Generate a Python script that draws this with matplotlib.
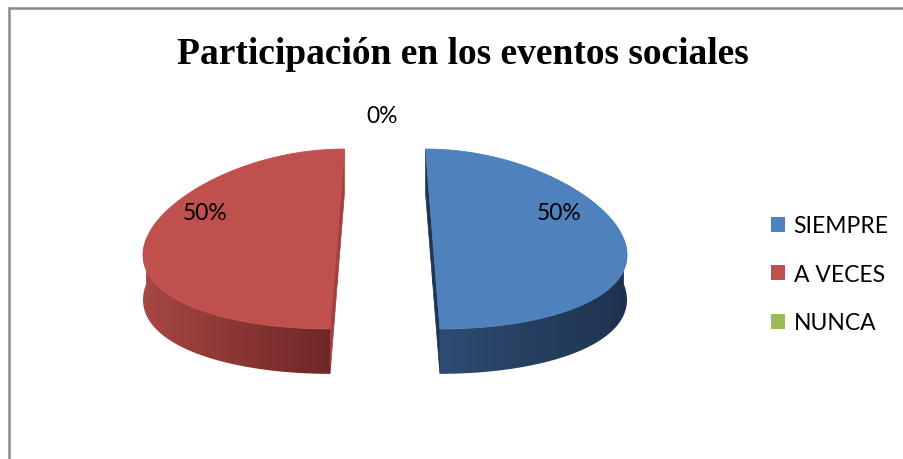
import numpy as np
import matplotlib
matplotlib.use('Agg')
import matplotlib.pyplot as plt
from matplotlib.patches import Polygon, Patch
from matplotlib.colors import LinearSegmentedColormap
from matplotlib.lines import Line2D

# ---- data ----
title = 'Participación en los eventos sociales'
categories = ['SIEMPRE', 'A VECES', 'NUNCA']
values = [50, 50, 0]

top_colors = ['#4F81BD', '#C0504D', '#9BBB59']
side_light = ['#2E4C72', '#A64742', '#7E9A45']
side_dark = ['#1E324F', '#6E2727', '#5A6E30']
cut_colors = ['#1F3552', '#A3403D', '#6A8440']

W, H = 904, 460
fig = plt.figure(figsize=(W / 100, H / 100), dpi=100)
ax = fig.add_axes([0, 0, 1, 1])
R_PX = 191.0
CX_PX, CY_PX = 385.0, 240.0
ax.set_xlim(-CX_PX / R_PX, (W - CX_PX) / R_PX)
ax.set_ylim(-(H - CY_PX) / R_PX, CY_PX / R_PX)
ax.axis('off')

TILT = 0.471     # vertical squash of the pie top
DEPTH = 0.235    # thickness of the pie
KEY = 0.15       # perspective keystone
EXPLODE = 0.25
START = 90.0


def proj(X, Y, Z=0.0):
    X = np.asarray(X, float)
    Y = np.asarray(Y, float)
    s = 1 - KEY * Y
    return X * s, Y * TILT + Z


def gradient_fill(xy, c1, c2, zorder):
    poly = Polygon(xy, closed=True, facecolor='none', edgecolor='none', zorder=zorder)
    ax.add_patch(poly)
    x0, x1 = xy[:, 0].min(), xy[:, 0].max()
    y0, y1 = xy[:, 1].min(), xy[:, 1].max()
    cmap = LinearSegmentedColormap.from_list('g', [c1, c2])
    grad = np.linspace(0, 1, 256).reshape(1, -1)
    im = ax.imshow(grad, extent=(x0, x1, y0, y1), aspect='auto', cmap=cmap,
                   origin='lower', zorder=zorder, interpolation='bilinear')
    im.set_clip_path(poly)


vals = np.array(values, float)
fracs = vals / vals.sum()
cum = np.concatenate([[0], np.cumsum(fracs)])
label_info = []
for i, f in enumerate(fracs):
    t_start = START - 360 * cum[i]
    t_end = START - 360 * cum[i + 1]
    mid = np.deg2rad((t_start + t_end) / 2)
    if f == 0:
        label_info.append((0.0, 0.0, mid, f))
        continue
    ex, ey = EXPLODE * np.cos(mid), EXPLODE * np.sin(mid)
    label_info.append((ex, ey, mid, f))
    t = np.deg2rad(np.linspace(t_end, t_start, 400))
    ax_, ay_ = ex + np.cos(t), ey + np.sin(t)
    # cut faces
    for edge in (t_start, t_end):
        er = np.deg2rad(edge)
        px, py = ex + np.cos(er), ey + np.sin(er)
        x1, y1 = proj([ex, px], [ey, py], 0)
        x2, y2 = proj([px, ex], [py, ey], -DEPTH)
        xy = np.column_stack([np.concatenate([x1, x2]), np.concatenate([y1, y2])])
        ax.add_patch(Polygon(xy, closed=True, facecolor=cut_colors[i],
                             edgecolor=cut_colors[i], lw=0.5, zorder=2))
    # outer side (front half only)
    m = np.sin(t) <= 1e-9
    if m.any():
        sx, sy = proj(ax_[m], ay_[m], 0)
        bx, by = proj(ax_[m][::-1], ay_[m][::-1], -DEPTH)
        xy = np.column_stack([np.concatenate([sx, bx]), np.concatenate([sy, by])])
        gradient_fill(xy, side_light[i], side_dark[i], 3)
    # top face
    tx, ty = proj(np.concatenate([[ex], ax_]), np.concatenate([[ey], ay_]), 0)
    ax.add_patch(Polygon(np.column_stack([tx, ty]), closed=True,
                         facecolor=top_colors[i], edgecolor=top_colors[i],
                         lw=0.6, zorder=5))

# percentage labels
LABEL_R = 0.72
LABEL_LIFT = 0.29
OUT_R = 1.37
for (ex, ey, mid, f) in label_info:
    txt = '{:.0f}%'.format(f * 100)
    if f > 0:
        lx, ly = proj(ex + LABEL_R * np.cos(mid), ey + LABEL_LIFT, 0)
    else:
        lx, ly = proj(OUT_R * np.cos(np.deg2rad(START)), OUT_R * np.sin(np.deg2rad(START)), 0)
    ax.text(float(lx) - 3 / R_PX, float(ly), txt, ha='center', va='center',
            fontsize=16.5, family='Lato', color='black', zorder=10)

# title
fig.text(463 / W, 1 - 54 / H, title, ha='center', va='center',
         fontsize=27, family='Liberation Serif', fontweight='bold')

# legend
handles = [Patch(facecolor=c, edgecolor='none') for c in top_colors]
fs = 16.5
fig.legend(handles, categories, loc='upper left', bbox_to_anchor=(762 / W, 1 - 207 / H),
           frameon=False, prop={'family': 'Lato', 'size': fs},
           handlelength=0.62, handleheight=0.62, handletextpad=0.36,
           labelspacing=1.2, borderaxespad=0)

# outer frame
fig.add_artist(Line2D([9 / W, 1], [1 - 9 / H, 1 - 9 / H], transform=fig.transFigure,
                      color='#8a8a8a', lw=1.8, solid_capstyle='butt'))
fig.add_artist(Line2D([9 / W, 9 / W], [0, 1 - 9 / H], transform=fig.transFigure,
                      color='#8a8a8a', lw=1.8, solid_capstyle='projecting'))

fig.savefig('out.png', dpi=100, facecolor='white')
